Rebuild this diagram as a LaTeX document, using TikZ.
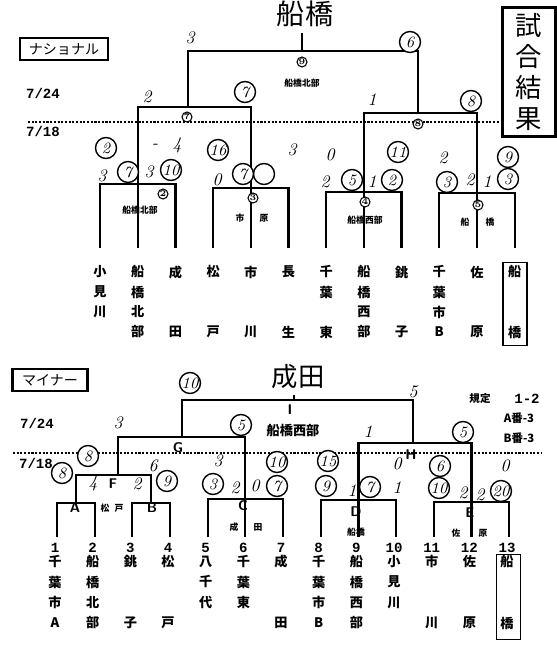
\documentclass[tikz,border=0pt]{standalone}
\usepackage{fontspec}
\newfontfamily\jp{Noto Sans CJK JP}
\newfontfamily\mono{Liberation Mono}
\usetikzlibrary{positioning}

\begin{document}
\begin{tikzpicture}[
    x=0.02cm, y=-0.02cm,
    brk/.style={line width=1.3pt},
    dotln/.style={line width=0.6pt, dash pattern=on 1.2pt off 0.9pt},
    team/.style={font=\jp\fontsize{7.5}{7.5}\selectfont\bfseries, inner sep=0pt},
    num/.style={font=\mono\fontsize{8}{8}\selectfont\bfseries, inner sep=0pt},
    sc/.style={circle, draw, line width=0.8pt, fill=white, minimum size=0.42cm,
               inner sep=0pt, font=\fontsize{9}{9}\selectfont\itshape},
    gno/.style={circle, draw, line width=0.6pt, fill=white, minimum size=0.2cm,
                inner sep=0pt, font=\fontsize{5}{5}\selectfont\bfseries},
    hw/.style={font=\fontsize{10}{10}\selectfont\itshape, inner sep=0pt},
    venue/.style={font=\jp\fontsize{5}{5}\selectfont\bfseries, inner sep=0pt},
    ltr/.style={font=\sffamily\fontsize{8}{8}\selectfont\bfseries, inner sep=0pt},
    cat/.style={draw, line width=1.5pt, minimum height=0.44cm, inner sep=0pt,
                font=\jp\fontsize{8}{8}\selectfont},
    tbox/.style={draw, line width=1pt, minimum width=0.48cm},
]
\useasboundingbox (0,0) rectangle (557,652);
%% -- Headings --
\node[font=\jp\fontsize{16}{16}\selectfont] (tN) at (305,14) {船橋};
\node[font=\jp\fontsize{15}{15}\selectfont] (tM) at (298,377) {成田};
\node[cat, minimum width=1.76cm] (catN) at (64,49) {ナショナル};
\node[cat, minimum width=1.5cm] (catM) at (50,380) {マイナー};
\node[draw, line width=2.2pt, minimum width=1.06cm, minimum height=2.58cm, align=center,
      font=\jp\fontsize{15}{17.5}\selectfont] (res) at (529,72) {試\\合\\結\\果};
%% -- Dates and dotted day lines --
\node[num] (dN24) at (43,93) {7/24};
\node[num] (dN18) at (43,131) {7/18};
\node[num] (dM24) at (37,423) {7/24};
\node[num] (dM18) at (36,463) {7/18};
\coordinate (lnN) at (500,122);
\coordinate (lnM) at (542,453);
\draw[dotln] (28,122) -- (lnN);
\draw[dotln] (13,453) -- (lnM);

%% -- National: columns, names --
\foreach \i in {1,...,12}{
  \coordinate (a\i) at ({100+37.7*(\i-1)},248);
}
\foreach \c/\r/\t in {1/1/小,1/2/見,1/3/川,2/1/船,2/2/橋,2/3/北,2/4/部,3/1/成,3/4/田,
    4/1/松,4/4/戸,5/1/市,5/4/川,6/1/長,6/4/生,7/1/千,7/2/葉,7/4/東,
    8/1/船,8/2/橋,8/3/西,8/4/部,9/1/銚,9/4/子,10/1/千,10/2/葉,10/3/市,10/4/B,
    11/1/佐,11/4/原,12/1/船,12/4/橋}{
  \node[team] (na\c-\r) at ({100+37.7*(\c-1)},{252+20*\r}) {\t};
}
\node[tbox, minimum height=1.66cm] (boxN) at (515,304) {};
%% -- National: bracket --
\coordinate (g2) at (137.7,184);
\coordinate (g3) at (250.8,188);
\coordinate (g4) at (363.9,192);
\coordinate (g5) at (477,193);
\coordinate (g7) at (188,107);
\coordinate (g8) at (418,113);
\coordinate (gF) at (302,51);
\draw[brk] (a1) |- (g2) -| (a3);
\draw[brk] (a4) |- (g3) -| (a6);
\draw[brk] (a7) |- (g4) -| (a9);
\draw[brk] (a10) |- (g5) -| (a12);
\draw[brk] (a2) |- (g7) -| (a5);
\draw[brk] (a8) |- (g8) -| (a11);
\draw[brk] (g7) |- (gF) -| (g8);
\draw[brk] (gF) -- (gF |- tN.south);
%% -- National: game numbers, venues --
\foreach \n/\x/\y in {9/302/62, 7/187/117, 8/418/124, 2/163/194, 3/253/198, 4/365/202, 5/478/205}{
  \node[gno] (gn\n) at (\x,\y) {\n};
}
\node[venue, below=0.22cm of gn9] (v9) {船橋北部};
\node[venue] (v2) at (140,210) {船橋北部};
\node[venue] (v3a) at (240,218) {市};
\node[venue] (v3b) at (264,218) {原};
\node[venue] (v4) at (365,220) {船橋西部};
\node[venue] (v5a) at (465,222) {船};
\node[venue] (v5b) at (490,222) {橋};
%% -- National: scores --
\foreach \n/\x/\y/\t in {h1/190/38/3, h2/147/97/2, h3/372/100/1, h4/155/146/-, h5/177/145/4,
    h6/292/150/3, h7/330/155/0, h8/443/158/2, h9/102/176/3, h10/149/172/3, h11/217/180/0,
    h12/325/182/2, h13/372/182/1, h14/470/180/2, h15/487/182/1}{
  \node[hw] (\n) at (\x,\y) {\t};
}
\foreach \n/\x/\y/\t in {s1/410/42/6, s2/245/92/7, s3/471/101/8, s4/106/148/2, s5/218/150/16,
    s6/398/152/11, s7/508/157/9, s8/128/172/7, s9/171/170/10, s11/264/174/{}, s10/243/174/7,
    s12/352/180/5, s13/392/180/2, s14/447/182/3, s15/508/179/3}{
  \node[sc] (\n) at (\x,\y) {\t};
}

%% -- Minor: columns, numbers, names --
\foreach \i in {1,...,13}{
  \coordinate (b\i) at ({57+37.67*(\i-1)},537);
  \node[num] (nb\i) at ({55+37.67*(\i-1)},548) {\i};
}
\foreach \c/\r/\t in {1/1/千,1/2/葉,1/3/市,1/4/A,2/1/船,2/2/橋,2/3/北,2/4/部,3/1/銚,3/4/子,
    4/1/松,4/4/戸,5/1/八,5/2/千,5/3/代,6/1/千,6/2/葉,6/3/東,7/1/成,7/4/田,
    8/1/千,8/2/葉,8/3/市,8/4/B,9/1/船,9/2/橋,9/3/西,9/4/部,10/1/小,10/2/見,10/3/川,
    11/1/市,11/4/川,12/1/佐,12/4/原,13/1/船,13/4/橋}{
  \node[team] (nm\c-\r) at ({55+37.67*(\c-1)},{541+20.5*\r}) {\t};
}
\node[tbox, minimum height=1.7cm] (boxM) at (508.5,597) {};
%% -- Minor: bracket --
\coordinate (gA) at (76,503);
\coordinate (gB) at (151,503);
\coordinate (gC) at (245,499);
\coordinate (gD) at (358,500);
\coordinate (gE) at (471,502);
\coordinate (gFm) at (118,475);
\coordinate (gG) at (182,437);
\coordinate (gH) at (413,443);
\coordinate (gI) at (294,400);
\draw[brk] (b1) |- (gA) -| (b2);
\draw[brk] (b3) |- (gB) -| (b4);
\draw[brk] (b5) |- (gC) -| (b7);
\draw[brk] (b8) |- (gD) -| (b10);
\draw[brk] (b11) |- (gE) -| (b13);
\draw[brk] (gA) |- (gFm) -| (gB);
\draw[brk] (gFm) |- (gG) -| (b6);
\draw[brk] (b9) |- (gH) -| (b12);
\draw[brk] (gG) |- (gI) -| (gH);
\draw[brk] (gI) -- (gI |- tM.south);
%% -- Minor: game letters, venues --
\foreach \t/\x/\y in {I/290/410, G/178/448, H/411/455, F/113/484, A/75/508, B/152/508,
    C/243/506, D/356/512, E/470/513}{
  \node[ltr] (gl\t) at (\x,\y) {\t};
}
\node[venue, font=\jp\fontsize{7.5}{7.5}\selectfont\bfseries] (wI) at (293,431) {船橋西部};
\node[venue] (wFa) at (105,508) {松};
\node[venue] (wFb) at (119,508) {戸};
\node[venue] (wCa) at (234,527) {成};
\node[venue] (wCb) at (258,527) {田};
\node[venue, below=0.2cm of glD] (wD) {船橋};
\node[venue] (wEa) at (456,533) {佐};
\node[venue] (wEb) at (483,533) {原};
%% -- Minor: legend --
\node[venue, font=\jp\fontsize{6}{6}\selectfont\bfseries] (lg1) at (480,399) {規定};
\node[num] (lg1n) at (527,399) {1-2};
\node[num, font=\jp\fontsize{6.5}{6.5}\selectfont\bfseries] (lg2) at (519,418) {A番-3};
\node[num, font=\jp\fontsize{6.5}{6.5}\selectfont\bfseries] (lg3) at (519,438) {B番-3};
%% -- Minor: scores --
\foreach \n/\x/\y/\t in {k1/118/423/3, k2/413/392/5, k3/368/432/1, k4/153/466/6, k5/218/461/3,
    k6/397/464/0, k7/505/466/0, k8/93/483/4, k9/137/484/2, k10/235/488/2, k11/255/486/0,
    k12/352/491/1, k13/397/488/1, k14/463/493/2, k15/480/495/2}{
  \node[hw] (\n) at (\x,\y) {\t};
}
\foreach \n/\x/\y/\t in {m1/190/383/10, m2/241/425/5, m3/463/432/5, m4/88/456/8, m5/62/473/8,
    m6/167/481/9, m7/277/462/10, m8/328/461/15, m9/440/466/6, m10/213/484/3, m11/277/486/7,
    m12/326/486/9, m13/370/487/7, m14/439/488/10, m15/501/491/20}{
  \node[sc] (\n) at (\x,\y) {\t};
}
\end{tikzpicture}
\end{document}
